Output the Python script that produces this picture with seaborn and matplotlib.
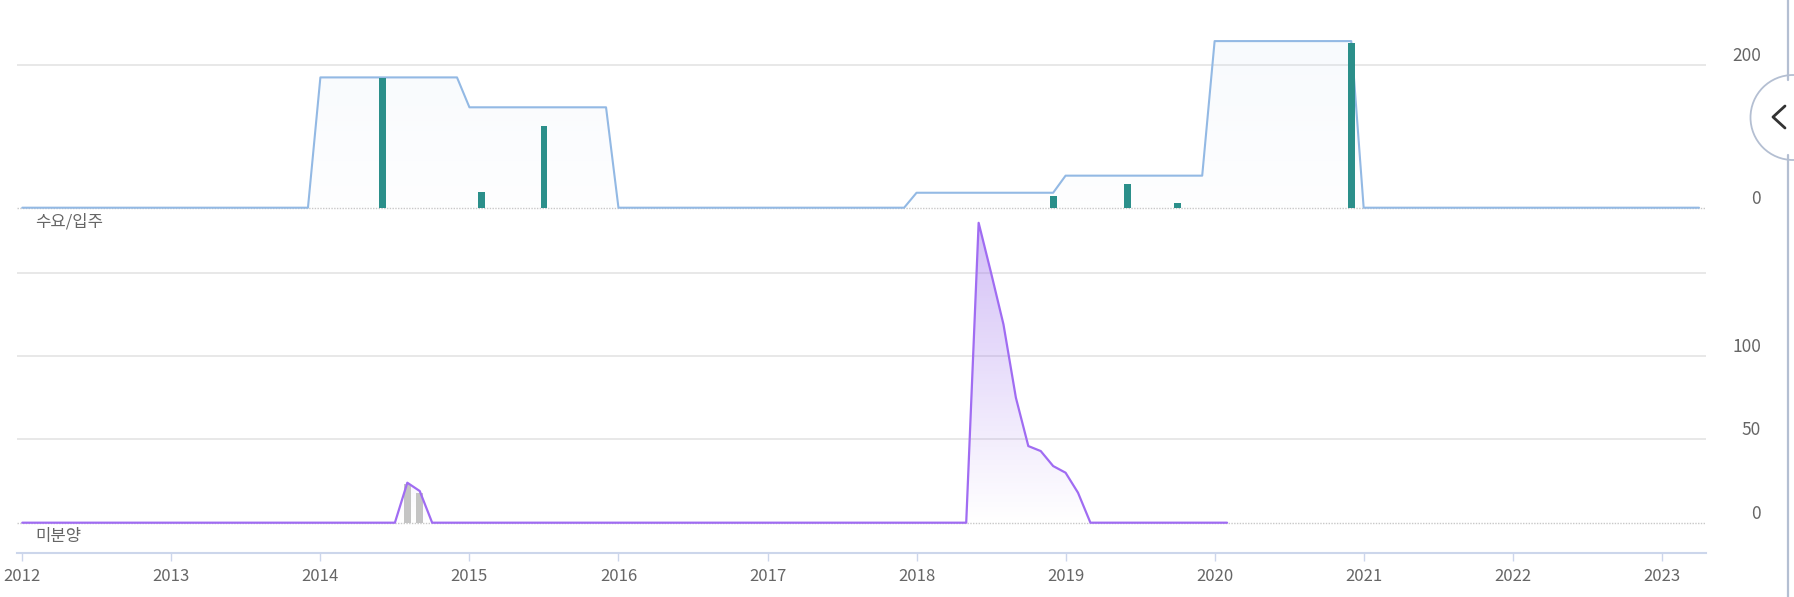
import numpy as np
import matplotlib
matplotlib.use("Agg")
import matplotlib.pyplot as plt
import matplotlib.patches as mpatches
import matplotlib.transforms as mtransforms
from matplotlib.lines import Line2D
import seaborn as sns

# ---------------- data ----------------
year_ticks = list(range(2012, 2024))

# 수요 (demand) line vertices (year-month, value)
demand_months = ["2012-01", "2013-12", "2014-01", "2014-12", "2015-01", "2015-12",
                 "2016-01", "2017-12", "2018-01", "2018-12", "2019-01", "2019-12",
                 "2020-01", "2020-12", "2021-01", "2023-04"]
demand_values = [0, 0, 183, 183, 141, 141, 0, 0, 21, 21, 45, 45, 234, 234, 0, 0]

# 입주 (move-in) bars
movein_months = ["2014-06", "2015-02", "2015-07", "2018-12", "2019-06", "2019-10", "2020-12"]
movein_values = [182, 22, 115, 17, 33, 7, 232]

# 미분양 (unsold) line vertices
unsold_months = ["2012-01", "2014-07", "2014-08", "2014-09", "2014-10", "2018-05",
                 "2018-06", "2018-07", "2018-08", "2018-09", "2018-10", "2018-11",
                 "2018-12", "2019-01", "2019-02", "2019-03", "2020-02"]
unsold_values = [0, 0, 24, 19, 0, 0, 180, 150, 119, 75, 46, 43, 34, 30, 18, 0, 0]

# grey bars (준공후 미분양)
grey_months = ["2014-08", "2014-09"]
grey_values = [23, 18]

top_ticks = [0, 200]
bottom_ticks = [0, 50, 100]
bottom_grid = [50, 100, 150]
panel_labels = ["수요/입주", "미분양"]


def to_year(m):
    y, mo = m.split("-")
    return int(y) + (int(mo) - 1) / 12.0


demand_x = [to_year(m) for m in demand_months]
movein_x = [to_year(m) for m in movein_months]
unsold_x = [to_year(m) for m in unsold_months]
grey_x = [to_year(m) for m in grey_months]

# ---------------- style ----------------
sns.set_theme(style="white")
plt.rcParams['font.family'] = ['Noto Sans CJK KR', 'DejaVu Sans']

W, H = 1794, 597
fig = plt.figure(figsize=(W / 100, H / 100), dpi=100)
fig.patch.set_facecolor("white")


def fy(px):
    return 1 - px / H


left_px, right_px = 17, 1705.6
x_per_year = 149.04
x0 = 2012 - (22.3 - left_px) / x_per_year
x1 = 2012 + (right_px - 22.3) / x_per_year

split_px = 215
top_ax = fig.add_axes([left_px / W, fy(split_px), (right_px - left_px) / W, split_px / H])
zero_top, ppu_top = 207.7, 0.712
top_ax.set_ylim(-(split_px - zero_top) / ppu_top, zero_top / ppu_top)

axis_px = 553.3
bot_ax = fig.add_axes([left_px / W, fy(axis_px), (right_px - left_px) / W, (axis_px - split_px) / H])
zero_bot, ppu_bot = 522.7, 1.666
bot_ax.set_ylim(-(axis_px - zero_bot) / ppu_bot, (zero_bot - split_px) / ppu_bot)

for ax in (top_ax, bot_ax):
    ax.set_facecolor("none")
    ax.set_xlim(x0, x1)
    for s in ax.spines.values():
        s.set_visible(False)
    ax.set_yticks([])
    ax.set_ylabel("")
    ax.set_xlabel("")

grid_c = "#e6e6e6"


def gradient_fill(ax, x, y, rgb, a_top, a_bot, z):
    poly = ax.fill_between(x, y, 0, color="none", lw=0)
    path = poly.get_paths()[0]
    n = 256
    g = np.linspace(0, 1, n).reshape(-1, 1)
    rgba = np.zeros((n, 1, 4))
    rgba[..., 0] = rgb[0]
    rgba[..., 1] = rgb[1]
    rgba[..., 2] = rgb[2]
    rgba[..., 3] = a_bot + (a_top - a_bot) * g
    xl, yl = ax.get_xlim(), ax.get_ylim()
    im = ax.imshow(rgba, extent=[min(x), max(x), 0, max(y)], origin="lower",
                   aspect="auto", zorder=z, interpolation="bilinear")
    im.set_clip_path(path, transform=ax.transData)
    ax.set_xlim(xl)
    ax.set_ylim(yl)


# ---------- top panel ----------
top_ax.axhline(200, color=grid_c, lw=1.3, zorder=0)
top_ax.axhline(0, color="#c8c8c8", lw=1.0, ls=(0, (1, 1)), zorder=0)
gradient_fill(top_ax, demand_x, demand_values, (0.82, 0.88, 0.96), 0.16, 0.03, 1)
sns.lineplot(x=demand_x, y=demand_values, ax=top_ax, color="#93b9e4", lw=1.5,
             sort=False, zorder=3)
top_ax.bar(movein_x, movein_values, width=0.046, color="#2b8f8a", zorder=4, linewidth=0)
top_ax.set_xlim(x0, x1)
top_ax.set_xticks([])
top_ax.set_ylabel("")

# ---------- bottom panel ----------
for g in bottom_grid:
    bot_ax.axhline(g, color=grid_c, lw=1.3, zorder=0)
bot_ax.axhline(0, color="#c8c8c8", lw=1.0, ls=(0, (1, 1)), zorder=0)
bot_ax.bar(grey_x, grey_values, width=0.044, color="#c4c4c4", zorder=2, linewidth=0)
gradient_fill(bot_ax, unsold_x, unsold_values, (0.62, 0.45, 0.93), 0.45, 0.0, 1)
sns.lineplot(x=unsold_x, y=unsold_values, ax=bot_ax, color="#a06cf2", lw=1.6,
             sort=False, zorder=3)
bot_ax.set_xlim(x0, x1)
bot_ax.set_ylabel("")
bot_ax.set_xlabel("")

# x axis
bot_ax.spines["bottom"].set_visible(True)
bot_ax.spines["bottom"].set_color("#ccd6eb")
bot_ax.spines["bottom"].set_linewidth(1.5)
bot_ax.set_xticks(year_ticks)
bot_ax.set_xticklabels([str(y) for y in year_ticks])
bot_ax.tick_params(axis="x", direction="out", length=5.5, width=1.0, color="#ccd6eb",
                   labelsize=12, labelcolor="#666666", pad=5, bottom=True)

# y labels (right side, slightly above gridlines)
off = mtransforms.ScaledTranslation(0, 9 / 100, fig.dpi_scale_trans)
for ax, ticks in ((top_ax, top_ticks), (bot_ax, bottom_ticks)):
    tr = mtransforms.blended_transform_factory(fig.transFigure, ax.transData) + off
    for t in ticks:
        ax.text(1761 / W, t, str(t), transform=tr, ha="right", va="center",
                fontsize=12.5, color="#666666", clip_on=False)

# panel labels
fig.text(35 / W, fy(221.7), panel_labels[0], ha="left", va="center",
         fontsize=12, color="#666666")
fig.text(35 / W, fy(536.7), panel_labels[1], ha="left", va="center",
         fontsize=12, color="#666666")

# right-side collapse tab (UI decoration)
edge_c = "#b4bfd2"
fig.add_artist(Line2D([1788 / W, 1788 / W], [fy(0), fy(80)], color=edge_c, lw=1.6,
                      transform=fig.transFigure))
fig.add_artist(Line2D([1788 / W, 1788 / W], [fy(155), fy(H)], color=edge_c, lw=1.6,
                      transform=fig.transFigure))
fig.add_artist(mpatches.Ellipse((1793 / W, fy(117.5)), 85 / W, 85 / H,
                                transform=fig.transFigure, facecolor="white",
                                edgecolor=edge_c, lw=1.3))
fig.add_artist(Line2D([1785 / W, 1773 / W, 1785 / W], [fy(106), fy(117), fy(128)],
                      color="#333333", lw=2.0, transform=fig.transFigure))

fig.savefig("out.png", dpi=100, facecolor="white")
